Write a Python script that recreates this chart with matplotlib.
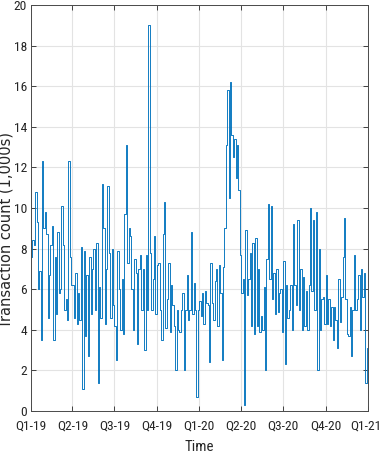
import numpy as np
import pandas as pd
import matplotlib
matplotlib.use("Agg")
import matplotlib.pyplot as plt
import matplotlib.transforms as mtransforms
from matplotlib import font_manager

q1_19 = [7.6, 8.4, 8.2, 10.8, 9.3, 6.0, 6.9, 3.5, 12.3, 9.0, 9.8, 8.7, 4.6, 6.7, 8.2,
         9.1, 3.5, 7.6, 4.8, 8.8, 5.8, 6.0, 10.1, 8.2, 5.0, 5.5, 4.5, 12.3, 7.6, 6.2]
q2_19 = [6.2, 4.6, 6.8, 4.3, 5.8, 4.5, 8.1, 1.1, 7.9, 3.7, 6.7, 2.7, 7.6, 4.8, 7.0,
         8.0, 5.0, 8.3, 1.4, 6.1, 4.6, 11.2, 9.0, 4.3, 7.0, 11.1, 7.8, 4.6, 8.0, 5.2]
q3_19 = [4.2, 2.5, 7.9, 6.0, 4.0, 6.5, 3.8, 9.7, 13.1, 7.3, 9.0, 8.6, 6.0, 4.0, 7.5,
         6.8, 3.3, 7.0, 7.7, 5.0, 7.0, 3.0, 7.7, 5.0, 19.0, 7.8, 5.0, 6.5, 8.6, 4.8]
q4_19 = [7.2, 7.3, 5.0, 3.5, 8.7, 10.3, 4.1, 5.5, 7.3, 3.9, 6.2, 5.2, 4.2, 2.0, 5.0,
         4.0, 3.9, 5.0, 5.8, 2.0, 5.0, 6.7, 4.5, 5.0, 8.8, 4.8, 6.3, 5.0, 0.7, 5.0]
q1_20 = [5.4, 4.7, 5.8, 4.3, 5.9, 5.3, 5.2, 2.4, 7.3, 5.3, 4.5, 6.4, 7.0, 4.2, 7.2,
         5.8, 2.5, 7.1, 9.0, 13.1, 15.8, 10.5, 16.2, 13.6, 12.5, 13.4, 11.5, 13.1, 10.9, 7.7]
q2_20 = [5.8, 6.5, 0.3, 8.9, 5.7, 6.5, 7.8, 4.2, 8.3, 3.8, 8.5, 4.2, 7.0, 3.9, 4.7,
         4.0, 6.1, 2.0, 7.5, 10.2, 6.5, 10.1, 5.5, 6.8, 4.8, 7.0, 4.9, 5.8, 6.0, 3.9]
q3_20 = [7.4, 2.3, 6.2, 4.6, 5.0, 6.2, 4.0, 9.2, 6.2, 5.2, 9.4, 5.0, 7.0, 4.0, 6.6,
         4.2, 5.9, 4.0, 6.2, 10.0, 5.9, 9.4, 5.0, 9.8, 2.0, 8.0, 4.0, 5.5, 5.6, 4.3]
q4_20 = [6.7, 4.3, 5.5, 4.2, 5.1, 3.5, 5.1, 4.5, 3.1, 6.5, 4.4, 5.6, 7.6, 9.5, 5.5,
         3.8, 3.7, 5.1, 2.7, 5.0, 7.7, 5.0, 5.5, 6.7, 4.0, 7.0, 5.6, 6.8, 1.4, 3.1]
last_value = 5.6

quarters = [q1_19, q2_19, q3_19, q4_19, q1_20, q2_20, q3_20, q4_20]
quarter_labels = ["Q1-19", "Q2-19", "Q3-19", "Q4-19", "Q1-20",
                  "Q2-20", "Q3-20", "Q4-20", "Q1-21"]
quarter_starts = pd.date_range("2019-01-01", periods=9, freq="QS")

dates = []
values = []
for k, vals in enumerate(quarters):
    d = pd.date_range(quarter_starts[k], quarter_starts[k + 1], periods=len(vals) + 1)[:-1]
    dates.extend(d)
    values.extend(vals)
dates.append(quarter_starts[-1])
values.append(last_value)

# narrow font for tick labels if one is around
installed = {f.name for f in font_manager.fontManager.ttflist}
narrow = None
for name in ["Liberation Sans Narrow", "DejaVu Sans Condensed", "Roboto Condensed",
             "Open Sans Condensed", "Noto Sans Condensed"]:
    if name in installed:
        narrow = name
        break
if narrow is None:
    narrow, tick_size = "Liberation Sans", 9
else:
    tick_size = 9.7
NARROW = [narrow, "DejaVu Sans"]
AX_COLOR = "#262626"

fig = plt.figure(figsize=(3.81, 4.58), dpi=100)
ax = fig.add_axes([31 / 381, 47 / 458, 337 / 381, 406 / 458])

ax.plot(dates, values, drawstyle="steps-post", color="#0072BD", linewidth=0.65)

ax.set_xlim(quarter_starts[0], quarter_starts[-1])
ax.set_ylim(0, 20)
ax.set_yticks(np.arange(0, 21, 2))
ax.set_xticks(quarter_starts)
ax.set_xticklabels(quarter_labels)

ax.grid(True, color="#e3e3e3", linewidth=0.8)
ax.set_axisbelow(True)
for s in ax.spines.values():
    s.set_color("#4a4a4a")
    s.set_linewidth(0.7)

ax.tick_params(direction="in", length=3.5, width=0.6, top=True, right=True,
               color=AX_COLOR, labelcolor=AX_COLOR)
ax.tick_params(axis="x", pad=6)
ax.tick_params(axis="y", pad=3)
for lab in ax.get_xticklabels() + ax.get_yticklabels():
    lab.set_family(NARROW)
    lab.set_fontsize(tick_size)

# last quarter label sits right at the figure edge; nudge it in a little
last_lab = ax.get_xticklabels()[-1]
last_lab.set_transform(last_lab.get_transform() +
                       mtransforms.ScaledTranslation(-2 / 100, 0, fig.dpi_scale_trans))

ax.set_xlabel("Time", family=NARROW, fontsize=tick_size + 1, color=AX_COLOR)
ax.xaxis.set_label_coords(0.5, -0.072)
ax.set_ylabel("Transaction count (1,000s)", family="DejaVu Sans", fontsize=10.5,
              color=AX_COLOR, va="center")
ax.yaxis.set_label_coords(-0.073, 0.446)

fig.savefig("out.png", dpi=100)
